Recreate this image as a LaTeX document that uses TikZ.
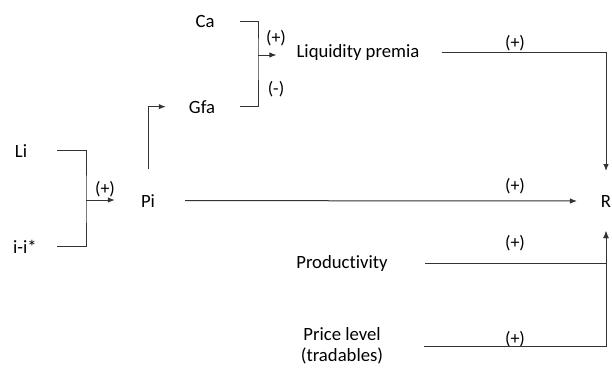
\documentclass[tikz,border=0pt]{standalone}
\usepackage{fontspec}
\setmainfont{Carlito}[Ligatures={NoCommon,NoRare}]
\usetikzlibrary{arrows.meta,calc}

\tikzset{
  var/.style={anchor=base,inner sep=0pt,font=\fontsize{18.7}{21}\selectfont},
  sgn/.style={inner sep=0pt,font=\fontsize{18}{20}\selectfont},
  lnk/.style={line width=1pt,black!80},
  arr/.style={lnk,-{Latex[length=7pt,width=5.5pt]}}
}

\begin{document}
\begin{tikzpicture}[x=1pt,y=-1pt]
\useasboundingbox(0,0)rectangle(612,367);
% variables
\node[var](Ca)at(205,27){Ca};
\node[var](Gfa)at(202,113){Gfa};
\node[var](Li)at(21,157){Li};
\node[var](ii)at(25,253){i-i*};
\node[var](Pi)at(148,207){Pi};
\node[var](LP)at(358,57){Liquidity premia};
\node[var](Prod)at(342,268){Productivity};
\node[var,align=center,anchor=center](Price)at(342,346){Price level\\(tradables)};
\node[var,outer sep=24pt](R)at(606,207){R};
% joints of the brackets
\coordinate(cajoin)at(258,55);
\coordinate(lijoin)at(86,200);
% signs
\node[sgn](s1)at(276,38){(+)};
\node[sgn](s2)at(276,89){(-)};
\node[sgn](s3)at(105,189){(+)};
\node[sgn](s4)at(515,43){(+)};
\node[sgn](s5)at(515,186){(+)};
\node[sgn](s6)at(515,243){(+)};
\node[sgn](s7)at(515,339){(+)};
% links
\draw[lnk,shorten <=25pt,shorten >=25pt](Ca.east)-|(cajoin)|-(Gfa.east);
\draw[arr,shorten >=20pt](cajoin)--(cajoin-|LP.west);
\draw[lnk,shorten <=30pt,shorten >=20pt](Li.east)-|(lijoin)|-(ii.east);
\draw[arr,shorten >=26pt](lijoin)--(lijoin-|Pi.west);
\draw[arr,shorten <=25pt,shorten >=23pt](Pi.north)|-(Gfa.west);
\draw[arr,shorten <=30pt](Pi.east)--(R.west);
\draw[arr,shorten <=22pt](LP.east)-|(R.north);
\draw[arr,shorten <=37pt](Prod.east)-|(R.south);
\draw[arr,shorten <=41pt](Price.east)-|(R.south);
\end{tikzpicture}
\end{document}
